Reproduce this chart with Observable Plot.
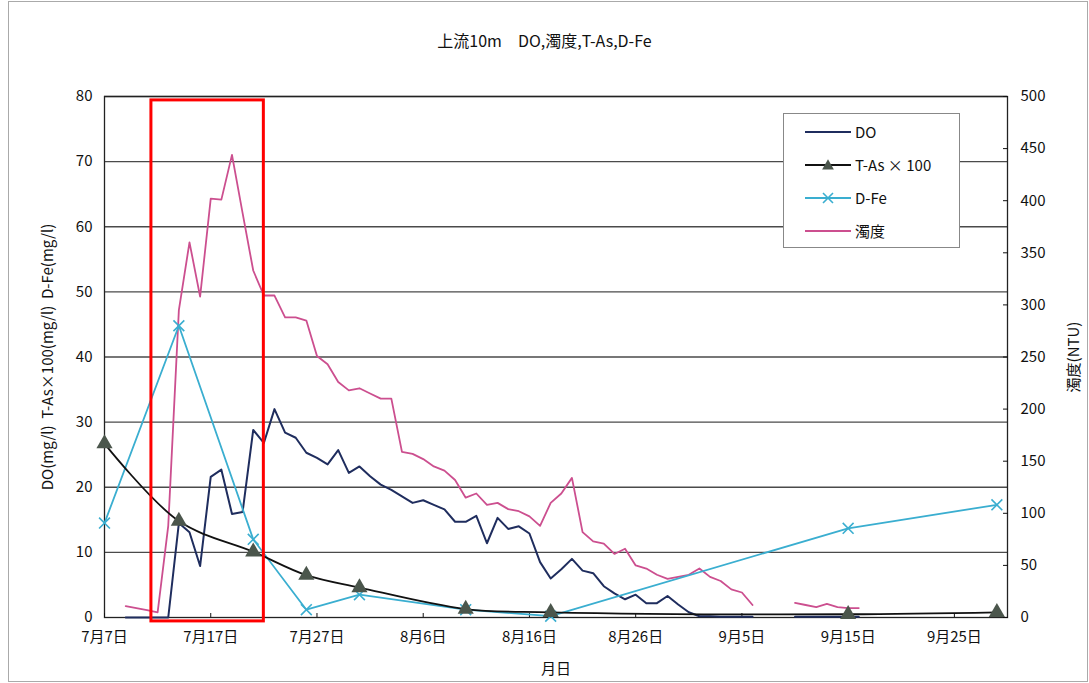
<!DOCTYPE html>
<html><head><meta charset="utf-8">
<script src="https://cdn.jsdelivr.net/npm/d3@7"></script>
<script src="https://cdn.jsdelivr.net/npm/@observablehq/plot@0.6"></script>
<style>
body{margin:0;background:#fff;font-family:"Noto Sans CJK JP","Noto Sans",sans-serif;}
#wrap{position:relative;width:1089px;height:683px;overflow:hidden;background:#fff;}
#frame{position:absolute;left:8px;top:1px;width:1080px;height:681px;border:1px solid #aaa;box-sizing:border-box;pointer-events:none;}
#title{position:absolute;left:0;top:28px;width:1089px;text-align:center;font-size:16px;color:#111;}
#legend{position:absolute;left:783px;top:113px;width:177px;height:135px;border:1px solid #888;background:#fff;box-sizing:border-box;}
.row{position:absolute;left:0;height:20px;width:175px;}
.row svg{position:absolute;left:21px;top:3px;}
.row span{position:absolute;left:71px;top:-1px;font-size:15px;color:#111;white-space:nowrap;}
#chart{position:absolute;left:0;top:0;}
</style></head>
<body>
<div id="wrap">
  <div id="chart"></div>
  <div id="frame"></div>
  <div id="title">上流10m　DO,濁度,T-As,D-Fe</div>
  <div id="legend"></div>
</div>
<script>
const year = 2011;
// daily series (DO, turbidity) 7/9 .. 9/16
const dailyDates = ["07-09","07-10","07-11","07-12","07-13","07-14","07-15","07-16","07-17","07-18","07-19","07-20","07-21","07-22","07-23","07-24","07-25","07-26","07-27","07-28","07-29","07-30","07-31",
"08-01","08-02","08-03","08-04","08-05","08-06","08-07","08-08","08-09","08-10","08-11","08-12","08-13","08-14","08-15","08-16","08-17","08-18","08-19","08-20","08-21","08-22","08-23","08-24","08-25","08-26","08-27","08-28","08-29","08-30","08-31",
"09-01","09-02","09-03","09-04","09-05","09-06","09-07","09-08","09-09","09-10","09-11","09-12","09-13","09-14","09-15","09-16"];
const doValues = [0,0,0,0,0,14.5,13.1,7.9,21.6,22.7,15.9,16.2,28.8,26.8,32.0,28.4,27.6,25.3,24.5,23.5,25.7,22.2,23.2,
21.7,20.4,19.6,18.6,17.6,18.0,17.3,16.6,14.7,14.7,15.6,11.4,15.3,13.6,14.0,12.9,8.5,6.0,7.4,9.0,7.2,6.8,4.8,3.7,2.8,3.5,2.2,2.2,3.3,2.0,0.8,
0.2,0.2,0.1,0.1,0.1,0.1,null,null,null,0.1,0.1,0.1,0.1,0.1,0.1,0.1];
const turbidityValues = [11,9,7,5,88,295,360,308,402,401,444,388,333,309,309,288,288,285,251,243,226,218,220,
215,210,210,159,157,152,145,141,132,115,119,108,110,104,102,97,88,110,119,134,82,73,71,61,66,50,47,41,37,39,41,
47,39,35,27,24,12,null,null,null,14,12,10,13,10,9,9];
// periodic series
const periodicDates = ["07-07","07-14","07-21","07-26","07-31","08-10","08-18","09-15","09-29"];
const tAsValues = [26.7,14.8,10.1,6.5,4.6,1.3,0.8,0.5,0.8];
const dFeValues = [14.5,44.8,12.0,1.2,3.5,1.2,0.2,13.7,17.3];
// axes
const xTickDates = ["07-07","07-17","07-27","08-06","08-16","08-26","09-05","09-15","09-25"];
const xDomain = ["07-07","09-30"];
const leftTicks = [0,10,20,30,40,50,60,70,80];
const rightTicks = [0,50,100,150,200,250,300,350,400,450,500];
const leftMax = 80, rightMax = 500;
// highlighted period (red box)
const highlight = [{start:"2011-07-11T10:00:00Z", end:"2011-07-22T00:00:00Z", low:-0.6, high:79.4}];

const toDate = s => new Date(`${year}-${s}T00:00:00Z`);
const toLeft = v => v == null ? NaN : v * leftMax / rightMax;

const daily = dailyDates.map((d,i) => ({date: toDate(d), DO: doValues[i] == null ? NaN : doValues[i], turb: toLeft(turbidityValues[i])}));
const periodic = periodicDates.map((d,i) => ({date: toDate(d), tas: tAsValues[i], dfe: dFeValues[i]}));
const hl = highlight.map(h => ({x1: new Date(h.start), x2: new Date(h.end), y1: h.low, y2: h.high}));

const C = {DO:"#1f2d5e", tas:"#111111", tri:"#4b564c", dfe:"#3aaed0", turb:"#cc4f8f"};
const font = '"Noto Sans CJK JP","Noto Sans",sans-serif';

const chart = Plot.plot({
  width: 1089, height: 683,
  marginTop: 96, marginBottom: 66, marginLeft: 104, marginRight: 82,
  style: {fontFamily: font, fontSize: "15px", color: "#111", background: "transparent"},
  x: {type: "utc", domain: xDomain.map(toDate)},
  y: {domain: [0, leftMax]},
  marks: [
    Plot.gridY(leftTicks.filter(v => v > 0), {stroke: "#4a4a4a", strokeOpacity: 1, strokeWidth: 1.3}),
    Plot.frame({stroke: "#222", strokeWidth: 1.3}),
    Plot.axisY(leftTicks, {anchor: "left", tickSize: 0, tickPadding: 12, fontSize: 15,
      label: "DO(mg/l)  T-As×100(mg/l)  D-Fe(mg/l)", labelAnchor: "center", labelArrow: "none", labelOffset: 62}),
    Plot.axisY(rightTicks.map(v => v * leftMax / rightMax), {anchor: "right", tickSize: -5, tickPadding: 18, fontSize: 15,
      tickFormat: v => String(Math.round(v * rightMax / leftMax)),
      label: "濁度(NTU)", labelAnchor: "center", labelArrow: "none", labelOffset: 71}),
    Plot.axisX(xTickDates.map(toDate), {anchor: "bottom", tickSize: -4, tickPadding: 18, fontSize: 15,
      tickFormat: d => `${d.getUTCMonth()+1}月${d.getUTCDate()}日`,
      label: "月日", labelAnchor: "center", labelArrow: "none", labelOffset: 56}),
    Plot.line(daily, {x: "date", y: "turb", stroke: C.turb, strokeWidth: 1.8}),
    Plot.line(daily, {x: "date", y: "DO", stroke: C.DO, strokeWidth: 2}),
    Plot.line(periodic, {x: "date", y: "dfe", stroke: C.dfe, strokeWidth: 1.8}),
    Plot.dot(periodic, {x: "date", y: "dfe", symbol: "times", r: 5, stroke: C.dfe, strokeWidth: 1.6}),
    Plot.line(periodic, {x: "date", y: "tas", stroke: C.tas, strokeWidth: 1.8, curve: "catmull-rom"}),
    Plot.dot(periodic, {x: "date", y: "tas", symbol: "triangle", r: 6, fill: C.tri, stroke: "none"}),
    Plot.rect(hl, {x1: "x1", x2: "x2", y1: "y1", y2: "y2", fill: "none", stroke: "#ff0000", strokeWidth: 3})
  ]
});
document.getElementById("chart").append(chart);

// legend
const legendItems = [
  {label: "DO", color: C.DO, marker: null},
  {label: "T-As × 100", color: C.tas, marker: "triangle"},
  {label: "D-Fe", color: C.dfe, marker: "times"},
  {label: "濁度", color: C.turb, marker: null}
];
const legend = d3.select("#legend");
legendItems.forEach((it, i) => {
  const row = legend.append("div").attr("class", "row").style("top", (8 + i * 33) + "px");
  const svg = row.append("svg").attr("width", 48).attr("height", 14);
  svg.append("line").attr("x1", 0).attr("x2", 46).attr("y1", 7).attr("y2", 7)
    .attr("stroke", it.color).attr("stroke-width", 1.8);
  if (it.marker === "triangle") {
    svg.append("path").attr("d", d3.symbol(d3.symbolTriangle, 60)()).attr("transform", "translate(23,8)").attr("fill", C.tri);
  } else if (it.marker === "times") {
    svg.append("path").attr("d", "M18,2L28,12M28,2L18,12").attr("stroke", it.color).attr("stroke-width", 1.6);
  }
  row.append("span").text(it.label);
});
</script>
</body></html>
